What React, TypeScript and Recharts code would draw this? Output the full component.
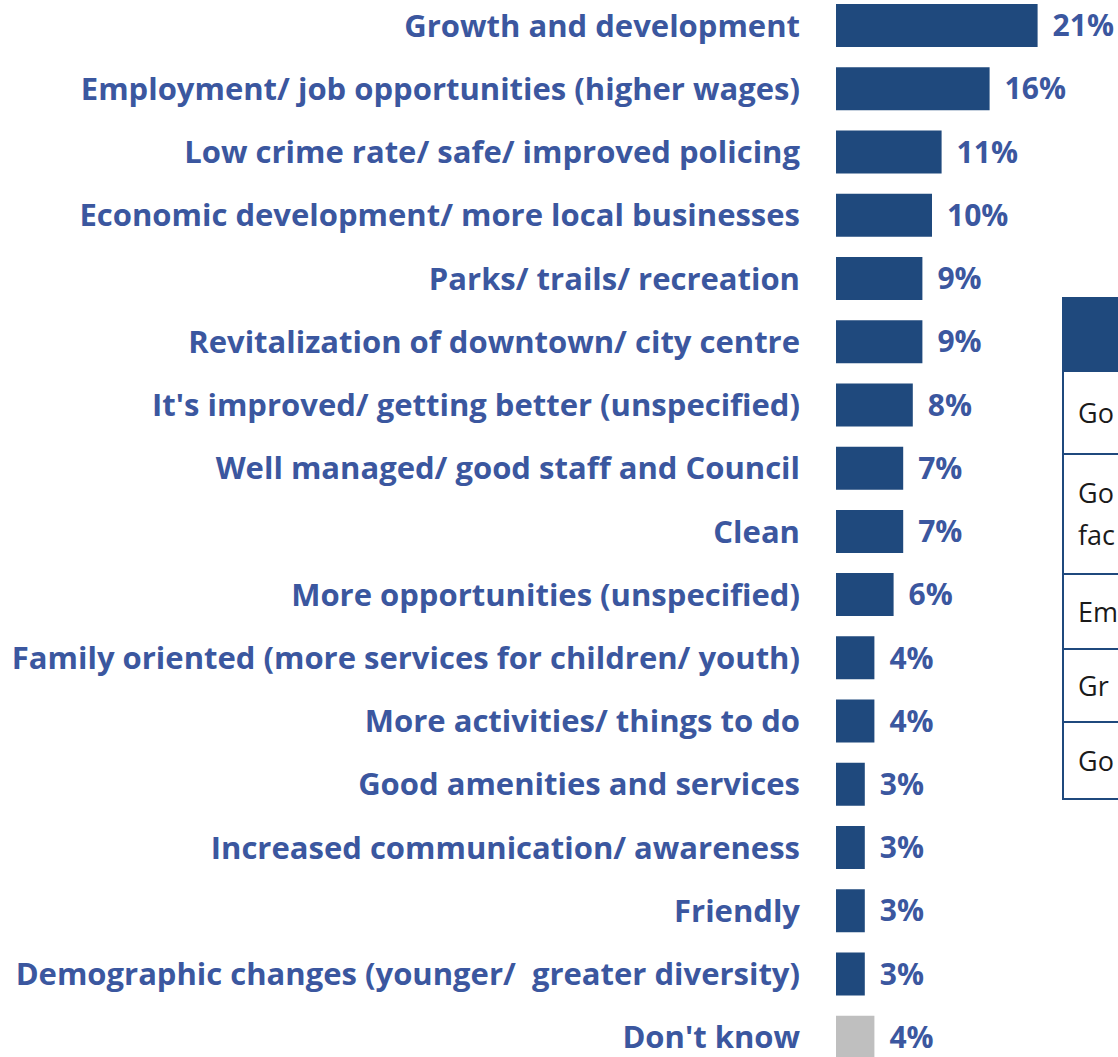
import React from 'react';
import { BarChart, Bar, XAxis, YAxis, Cell, LabelList } from 'recharts';

const categories: string[] = [
  'Growth and development',
  'Employment/ job opportunities (higher wages)',
  'Low crime rate/ safe/ improved policing',
  'Economic development/ more local businesses',
  'Parks/ trails/ recreation',
  'Revitalization of downtown/ city centre',
  "It's improved/ getting better (unspecified)",
  'Well managed/ good staff and Council',
  'Clean',
  'More opportunities (unspecified)',
  'Family oriented (more services for children/ youth)',
  'More activities/ things to do',
  'Good amenities and services',
  'Increased communication/ awareness',
  'Friendly',
  'Demographic changes (younger/  greater diversity)',
  "Don't know",
];
const values: number[] = [21, 16, 11, 10, 9, 9, 8, 7, 7, 6, 4, 4, 3, 3, 3, 3, 4];
const isDontKnow: boolean[] = categories.map((c) => c === "Don't know");

// visible (cropped) fragments of the side table
const tableRows: string[][] = [['Go'], ['Go', 'fac'], ['Em'], ['Gr'], ['Go']];

const data = categories.map((c, i) => ({ name: c, value: values[i], dk: isDontKnow[i] }));

const BAR = '#1f497d';
const TEXT = '#3b579f';
const FONT = '"Open Sans", Lato, sans-serif';

const Tick = (props: any) => {
  const { x, y, payload } = props;
  return (
    <text
      x={x}
      y={y}
      dy={11}
      textAnchor="end"
      fill={TEXT}
      style={{ fontFamily: FONT, fontWeight: 700, fontSize: 31, whiteSpace: 'pre' }}
    >
      {payload.value}
    </text>
  );
};

export default function App() {
  return (
    <div style={{ position: 'absolute', left: 0, top: 0, width: 1118, height: 1057, overflow: 'hidden', background: '#fff' }}>
      <div style={{ position: 'absolute', left: 0, top: -6 }}>
        <BarChart
          layout="vertical"
          width={1118}
          height={1075}
          data={data}
          margin={{ top: 0, right: 42, bottom: 0, left: 0 }}
        >
          <XAxis type="number" domain={[0, 25]} hide />
          <YAxis
            type="category"
            dataKey="name"
            width={836}
            axisLine={false}
            tickLine={false}
            tickSize={0}
            tickMargin={36}
            interval={0}
            tick={<Tick />}
          />
          <Bar dataKey="value" barSize={43} isAnimationActive={false}>
            {data.map((d, i) => (
              <Cell key={i} fill={d.dk ? '#bfbfbf' : BAR} />
            ))}
            <LabelList
              dataKey="value"
              position="right"
              offset={15}
              formatter={(v: any) => `${v}%`}
              style={{ fontFamily: FONT, fontWeight: 700, fontSize: 30, fill: TEXT }}
            />
          </Bar>
        </BarChart>
      </div>
      <div
        style={{
          position: 'absolute',
          left: 1062,
          top: 297,
          width: 300,
          borderLeft: `2px solid ${BAR}`,
          fontFamily: '"Open Sans", sans-serif',
          fontSize: 27,
          color: '#1a1a1a',
        }}
      >
        <div style={{ height: 75, background: BAR }} />
        {tableRows.map((r, i) => (
          <div
            key={i}
            style={{
              height: [83, 120, 75, 73, 77][i],
              borderBottom: `2px solid ${BAR}`,
              boxSizing: 'border-box',
              padding: '0 0 0 14px',
              display: 'flex',
              flexDirection: 'column',
              justifyContent: 'center',
              lineHeight: '42px',
              whiteSpace: 'nowrap',
            }}
          >
            {r.map((line, j) => (
              <div key={j}>{line}</div>
            ))}
          </div>
        ))}
      </div>
    </div>
  );
}
